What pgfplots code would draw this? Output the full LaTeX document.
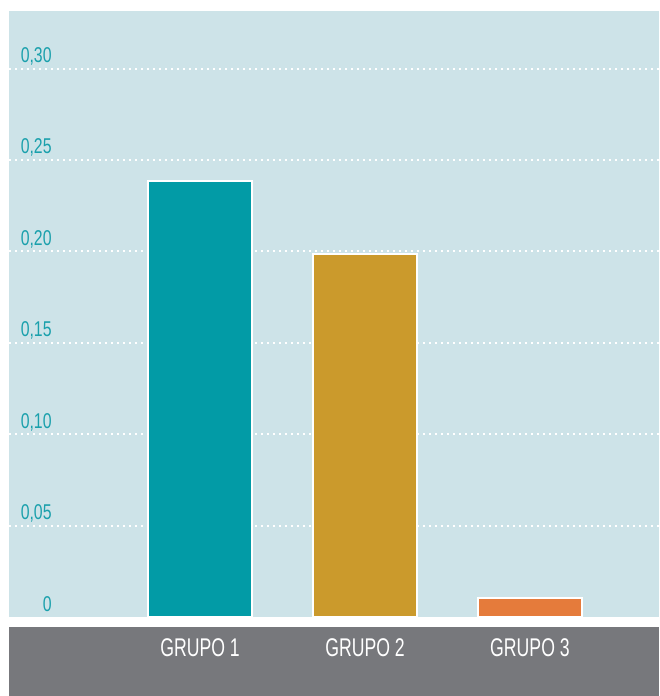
\documentclass[border=0pt]{standalone}
\usepackage{fontspec}
\setmainfont{Liberation Sans}[FakeStretch=0.74]
\newfontfamily\labfont{Liberation Sans}[FakeStretch=0.69]
\usepackage{pgfplots}
\pgfplotsset{compat=1.18}
\definecolor{bgblue}{HTML}{CDE3E8}
\definecolor{teal1}{HTML}{029BA6}
\definecolor{gold1}{HTML}{CB9A2C}
\definecolor{orange1}{HTML}{E57B3B}
\definecolor{grayband}{HTML}{77787C}
\definecolor{ticktxt}{HTML}{1AA0AC}
\begin{document}
\begin{tikzpicture}
\useasboundingbox (-4.5pt,-39.5pt) rectangle (325pt,308.5pt);
\fill[grayband] (0,-5pt) rectangle (325pt,-39.5pt);
\begin{axis}[
  name=ax, at={(0,0)}, anchor=south west,
  scale only axis, width=325pt, height=303pt,
  xmin=-1.158, xmax=2.782, ymin=0, ymax=0.3315,
  axis line style={draw=none},
  axis background/.style={fill=bgblue},
  major tick length=0pt,
  xtick={0,1,2}, xticklabels={GRUPO 1,GRUPO 2,GRUPO 3},
  xticklabel style={font=\labfont\fontsize{12.8}{14}\selectfont, text=white, anchor=center, yshift=-15.5pt},
  ytick={0.05,0.10,0.15,0.20,0.25,0.30},
  yticklabels={{0,05},{0,10},{0,15},{0,20},{0,25},{0,30}},
  extra y ticks={0}, extra y tick labels={0},
  extra y tick style={grid=none},
  yticklabel style={font=\fontsize{10.7}{12}\selectfont, text=ticktxt, anchor=base east, inner sep=0pt, xshift=21.5pt, yshift=3pt},
  ymajorgrids, grid style={white, line width=1pt, dash pattern=on 1pt off 2pt},
]
\addplot[ybar, bar shift=0pt, bar width=52pt, fill=teal1, draw=white, line width=0.8pt] coordinates {(0,0.2385)};
\addplot[ybar, bar shift=0pt, bar width=52pt, fill=gold1, draw=white, line width=0.8pt] coordinates {(1,0.1986)};
\addplot[ybar, bar shift=0pt, bar width=52pt, fill=orange1, draw=white, line width=0.8pt] coordinates {(2,0.0104)};
\end{axis}
\end{tikzpicture}
\end{document}
